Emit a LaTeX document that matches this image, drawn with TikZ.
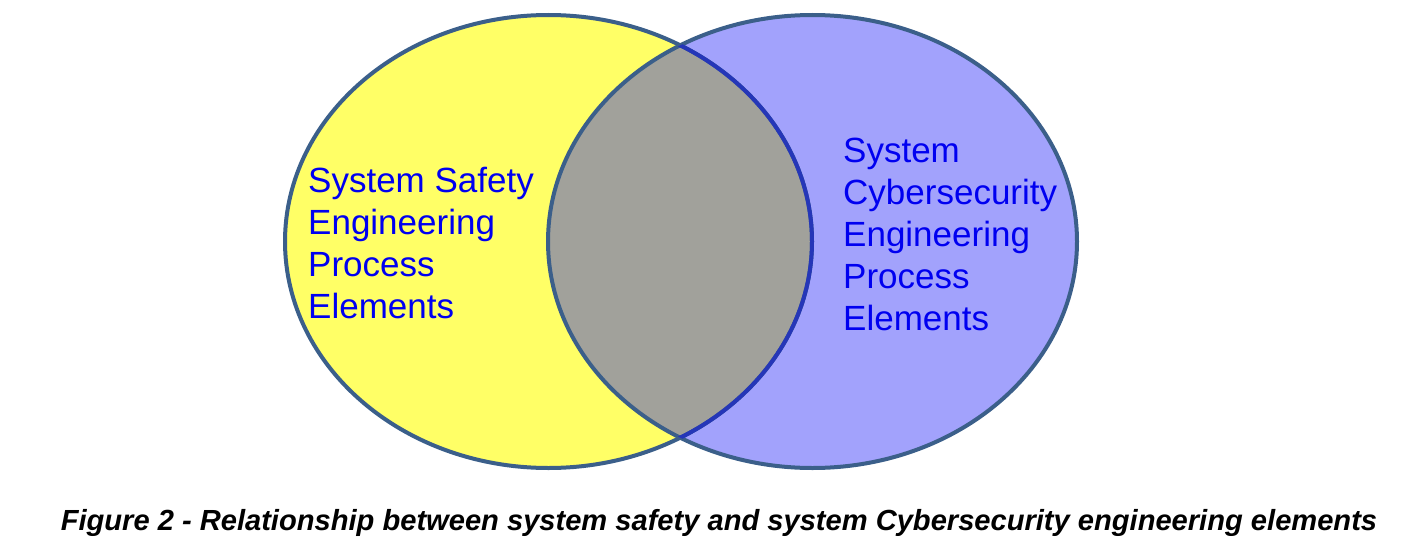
\documentclass[tikz,border=0pt]{standalone}
\usepackage{fontspec}
\setmainfont{Liberation Sans}
\definecolor{safetyyellow}{HTML}{FFFF66}
\definecolor{cyberblue}{HTML}{A2A2FC}
\definecolor{overlapgray}{HTML}{A1A19B}
\definecolor{rimblue}{HTML}{3B5F8A}
\definecolor{innerblue}{HTML}{2536B8}
\definecolor{labelblue}{HTML}{0000F0}
\tikzset{
  rim/.style={draw=rimblue,line width=4pt},
  setlabel/.style={anchor=north west,inner sep=0pt,align=left,text=labelblue,
    font=\fontsize{35}{42}\selectfont},
}
\begin{document}
\begin{tikzpicture}[x=1pt,y=-1pt]
\useasboundingbox (0,0) rectangle (1419,551);
% fills
\fill[safetyyellow] (548.5,241.5) ellipse (263.5 and 226.5);
\fill[cyberblue] (812.5,241.5) ellipse (264.5 and 226.5);
\begin{scope}
  \clip (548.5,241.5) ellipse (263.5 and 226.5);
  \fill[overlapgray] (812.5,241.5) ellipse (264.5 and 226.5);
\end{scope}
% outlines
\draw[rim] (548.5,241.5) ellipse (263.5 and 226.5);
\draw[rim] (812.5,241.5) ellipse (264.5 and 226.5);
\begin{scope}
  \clip (812.5,241.5) ellipse (264.5 and 226.5);
  \draw[draw=innerblue,line width=4pt] (548.5,241.5) ellipse (263.5 and 226.5);
\end{scope}

\node[setlabel] (safety) at (308,167) {System Safety\\Engineering\\Process\\Elements};
\node[setlabel] (cyber) at (843,138) {System\\Cybersecurity\\Engineering\\Process\\Elements};

\node[font=\fontsize{29.1}{33}\selectfont\bfseries\itshape] (caption) at (719,523)
  {Figure 2 - Relationship between system safety and system Cybersecurity engineering elements};
\end{tikzpicture}
\end{document}
